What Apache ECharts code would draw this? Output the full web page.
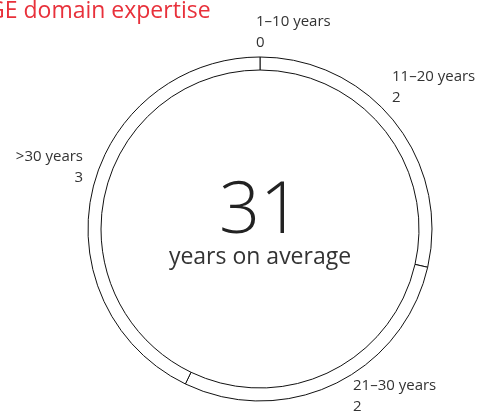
<!DOCTYPE html>
<html>
<head>
<meta charset="utf-8">
<style>
    html, body { margin: 0; padding: 0; background: #fff; }
    #pie { width: 478px; height: 413px; }
</style>
</head>
<body>
<div id="pie"></div>
<script src="https://cdn.jsdelivr.net/npm/echarts@6/dist/echarts.min.js"></script>
<script>
    // 数据
    var categories = ['1–10 years', '11–20 years', '21–30 years', '>30 years'];
    var counts = [0, 2, 2, 3];
    var avgYears = 31;
    var titleText = 'GE domain expertise';

    // 标签位置
    var labelPos = [
        {x: 256, y: 11, align: 'left'},
        {x: 392, y: 66, align: 'left'},
        {x: 353, y: 375, align: 'left'},
        {x: 83, y: 146, align: 'right'}
    ];

    var font = '"Open Sans", "Noto Sans", sans-serif';
    var myChart = echarts.init(document.getElementById('pie'));
    var option = {
        animation: false,
        graphic: [
            {type: 'text', x: -12, y: 0, style: {text: titleText, fill: '#e8313b', font: '23px ' + font}},
            {type: 'text', x: 260, y: 176, style: {text: String(avgYears), fill: '#222', font: '300 72px ' + font, textAlign: 'center'}},
            {type: 'text', x: 260, y: 246, style: {text: 'years on average', fill: '#333', font: '23px ' + font, textAlign: 'center'}}
        ],
        series: [{
            type: 'pie',
            center: [260, 229],
            radius: [159, 172],
            startAngle: 90,
            clockwise: true,
            minAngle: 0,
            silent: true,
            data: categories.map(function (c, i) { return {name: c, value: counts[i]}; }),
            itemStyle: {color: '#fff', borderColor: '#111', borderWidth: 1},
            label: {
                show: true,
                formatter: '{b}\n{c}',
                color: '#333',
                fontFamily: font,
                fontSize: 15,
                lineHeight: 21,
                overflow: 'none'
            },
            labelLine: {show: false},
            labelLayout: function (params) {
                var p = labelPos[params.dataIndex];
                return {x: p.x, y: p.y, align: p.align, verticalAlign: 'top', width: 200};
            }
        }]
    };
    myChart.setOption(option);
</script>
</body>
</html>
